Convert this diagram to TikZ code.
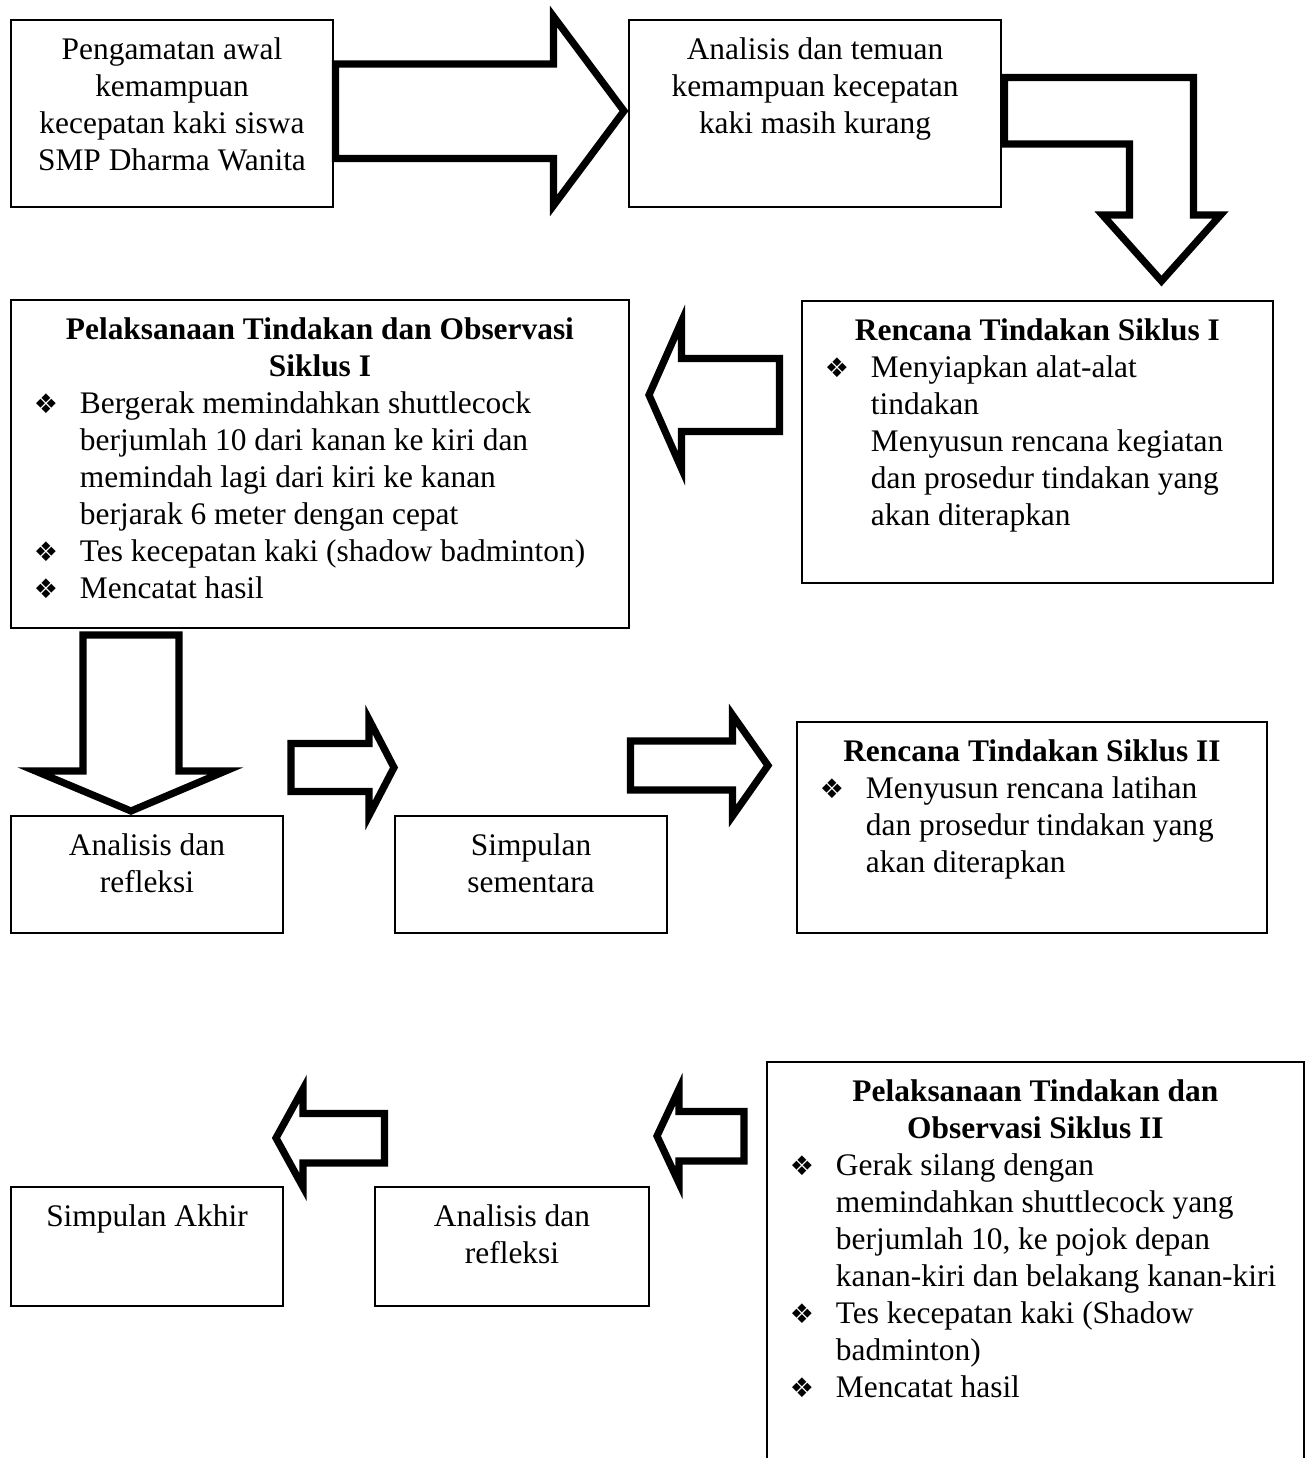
\documentclass[tikz,border=0pt]{standalone}
\usepackage{fontspec}
\setmainfont{Liberation Serif}
\newfontfamily\bulfont{DejaVu Sans}
\usetikzlibrary{positioning,fit}

\tikzset{every picture/.style={line width=0.75pt}}
\tikzset{
  box/.style={draw, line width=0.8pt, inner sep=0pt},
  blockarrow/.style={draw, line width=3.6pt, line join=miter, miter limit=10},
  ctext/.style={align=center, inner sep=0pt},
  ltext/.style={align=left, inner sep=0pt},
}
\newcommand\bulit{\makebox[22.5pt][l]{\hspace*{-0.5pt}\bulfont\fontsize{13.5pt}{14pt}\selectfont ❖}}
\newcommand\contl{\hspace*{22.5pt}}
\newcommand\ttl[2]{\makebox[#1]{\bfseries #2}}

\begin{document}
\begin{tikzpicture}[x=0.5pt,y=0.5pt,yscale=-1,xscale=1,font=\fontsize{15.7pt}{18.5pt}\selectfont]
\useasboundingbox (0,0) rectangle (1311,1458);
\clip (0,0) rectangle (1311,1458);

%Shape: Rectangle [obs]
\node[box, fit={(11,20) (333,207)}] (obs) {};
\node[ctext, below=7pt of obs.north] (obs-t) {\strut Pengamatan awal\\kemampuan\\kecepatan kaki siswa\\SMP Dharma Wanita};
%Shape: Rectangle [ana]
\node[box, fit={(629,20) (1001,207)}] (ana) {};
\node[ctext, below=7pt of ana.north] (ana-t) {\strut Analisis dan temuan\\kemampuan kecepatan\\kaki masih kurang};
%Shape: Rectangle [ren1]
\node[box, fit={(802,301) (1273,583)}] (ren1) {};
\node[ltext, below right=7pt and 12pt of ren1.north west] (ren1-t) {\strut\ttl{211.5pt}{Rencana Tindakan Siklus I}\\
  \bulit Menyiapkan alat-alat\\
  \contl tindakan\\
  \contl Menyusun rencana kegiatan\\
  \contl dan prosedur tindakan yang\\
  \contl akan diterapkan};
%Shape: Rectangle [lak1]
\node[box, fit={(11,300) (629,628)}] (lak1) {};
\node[ltext, below right=7pt and 12pt of lak1.north west] (lak1-t) {\strut\ttl{285pt}{Pelaksanaan Tindakan dan Observasi}\\
  \ttl{285pt}{Siklus I}\\
  \bulit Bergerak memindahkan shuttlecock\\
  \contl berjumlah 10 dari kanan ke kiri dan\\
  \contl memindah lagi dari kiri ke kanan\\
  \contl berjarak 6 meter dengan cepat\\
  \bulit Tes kecepatan kaki (shadow badminton)\\
  \bulit Mencatat hasil};
%Shape: Rectangle [ref1]
\node[box, fit={(11,816) (283,933)}] (ref1) {};
\node[ctext, below=7pt of ref1.north] (ref1-t) {\strut Analisis dan\\refleksi};
%Shape: Rectangle [sim]
\node[box, fit={(395,816) (667,933)}] (sim) {};
\node[ctext, below=7pt of sim.north] (sim-t) {\strut Simpulan\\sementara};
%Shape: Rectangle [ren2]
\node[box, fit={(797,722) (1267,933)}] (ren2) {};
\node[ltext, below right=7pt and 12pt of ren2.north west] (ren2-t) {\strut\ttl{211pt}{Rencana Tindakan Siklus II}\\
  \bulit Menyusun rencana latihan\\
  \contl dan prosedur tindakan yang\\
  \contl akan diterapkan};
%Shape: Rectangle [lak2] (runs off the page)
\node[box, fit={(767,1062) (1304,1490)}] (lak2) {};
\node[ltext, below right=7pt and 12pt of lak2.north west] (lak2-t) {\strut\ttl{244.5pt}{Pelaksanaan Tindakan dan}\\
  \ttl{244.5pt}{Observasi Siklus II}\\
  \bulit Gerak silang dengan\\
  \contl memindahkan shuttlecock yang\\
  \contl berjumlah 10, ke pojok depan\\
  \contl kanan-kiri dan belakang kanan-kiri\\
  \bulit Tes kecepatan kaki (Shadow\\
  \contl badminton)\\
  \bulit Mencatat hasil};
%Shape: Rectangle [akhir]
\node[box, fit={(11,1187) (283,1306)}] (akhir) {};
\node[ctext, below=7pt of akhir.north] (akhir-t) {\strut Simpulan Akhir};
%Shape: Rectangle [ref2]
\node[box, fit={(375,1187) (649,1306)}] (ref2) {};
\node[ctext, below=7pt of ref2.north] (ref2-t) {\strut Analisis dan\\refleksi};

%Shape: Right Arrow [obs -> ana]
\draw[blockarrow] (335.5,64) -- (553.5,64) -- (553.5,16.5) -- (624,111) -- (553.5,205.5) -- (553.5,158.5) -- (335.5,158.5) -- cycle;
%Shape: Bent Arrow [ana -> ren1]
\draw[blockarrow] (1004.5,77.5) -- (1193.5,77.5) -- (1193.5,215) -- (1220.5,215) -- (1161.5,281) -- (1102.5,215) -- (1129.5,215) -- (1129.5,144) -- (1004.5,144) -- cycle;
%Shape: Left Arrow [ren1 -> lak1]
\draw[blockarrow] (779.5,358.5) -- (681.5,358.5) -- (681.5,321.5) -- (649,395) -- (681.5,468.5) -- (681.5,431.5) -- (779.5,431.5) -- cycle;
%Shape: Down Arrow [lak1 -> ref1]
\draw[blockarrow] (83,635) -- (179,635) -- (179,771) -- (225.5,771) -- (131,811) -- (35.5,771) -- (83,771) -- cycle;
%Shape: Right Arrow [ref1 -> sim]
\draw[blockarrow] (291,743.5) -- (369,743.5) -- (369,719.5) -- (394,767.5) -- (369,815.5) -- (369,791.5) -- (291,791.5) -- cycle;
%Shape: Right Arrow [sim -> ren2]
\draw[blockarrow] (630.5,741) -- (732.5,741) -- (732.5,715) -- (768,765.5) -- (732.5,816) -- (732.5,790) -- (630.5,790) -- cycle;
%Shape: Left Arrow [lak2 -> ref2]
\draw[blockarrow] (744,1111.5) -- (679,1111.5) -- (679,1089) -- (657,1136) -- (679,1183) -- (679,1161) -- (744,1161) -- cycle;
%Shape: Left Arrow [ref2 -> akhir]
\draw[blockarrow] (384.5,1113.5) -- (303,1113.5) -- (303,1089) -- (276,1138) -- (303,1187) -- (303,1163) -- (384.5,1163) -- cycle;

\end{tikzpicture}
\end{document}
